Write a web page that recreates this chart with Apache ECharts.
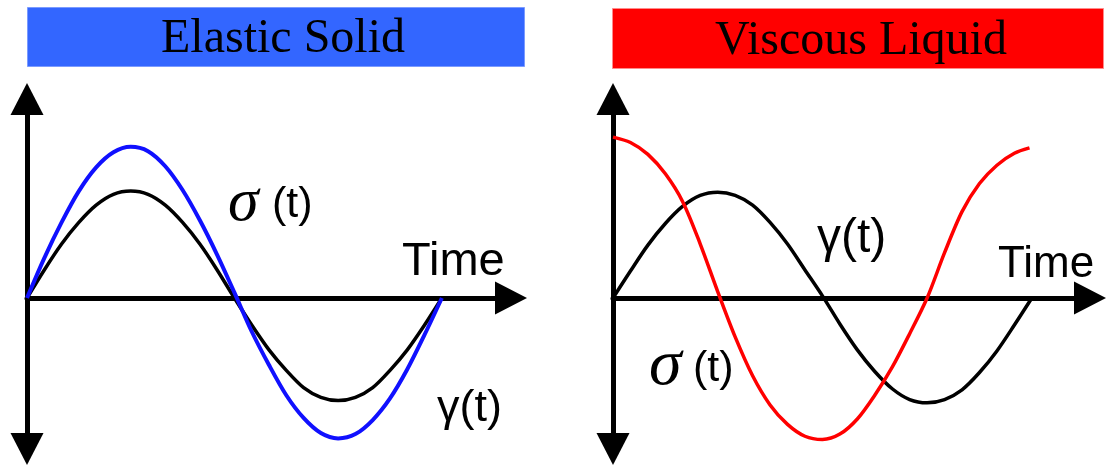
<!DOCTYPE html>
<html>
<head>
<meta charset="utf-8">
<title>Elastic Solid vs Viscous Liquid</title>
<script src="https://cdn.jsdelivr.net/npm/echarts@6/dist/echarts.min.js"></script>
<style>
  html, body { margin: 0; padding: 0; background: #fff; }
  #chart { width: 1107px; height: 468px; }
</style>
</head>
<body>
<div id="chart"></div>
<script>
// phase (degrees) along the time axis
var phase = [0, 15, 30, 45, 60, 75, 90, 105, 120, 135, 150, 165, 180,
             195, 210, 225, 240, 255, 270, 285, 300, 315, 330, 345, 360];
var redPhase = [0, 15, 30, 45, 60, 75, 90, 105, 120, 135, 150, 165, 180,
                195, 210, 225, 240, 255, 270, 285, 300, 315, 330, 345, 358];

// elastic solid: stress (black) and strain (blue) in phase
var solidStress = [0, 0.26, 0.50, 0.70, 0.86, 0.96, 0.99, 0.96, 0.86, 0.70, 0.50, 0.26, 0,
                   -0.25, -0.48, -0.67, -0.83, -0.92, -0.95, -0.92, -0.83, -0.67, -0.48, -0.25, 0];
var solidStrain = [0, 0.37, 0.70, 0.99, 1.21, 1.35, 1.40, 1.36, 1.22, 1.00, 0.72, 0.40, 0.05,
                   -0.31, -0.62, -0.90, -1.11, -1.25, -1.30, -1.26, -1.13, -0.93, -0.66, -0.34, 0];

// viscous liquid: strain (black) and stress (red) 90 deg ahead
var liquidStrain = [0, 0.25, 0.49, 0.69, 0.85, 0.95, 0.98, 0.95, 0.86, 0.70, 0.50, 0.26, 0.02,
                    -0.24, -0.48, -0.68, -0.84, -0.94, -0.97, -0.94, -0.85, -0.69, -0.49, -0.25, 0];
var liquidStress = [1.49, 1.44, 1.33, 1.15, 0.89, 0.50, 0.06, -0.36, -0.72, -0.99, -1.17, -1.28, -1.31,
                    -1.26, -1.12, -0.90, -0.64, -0.33, 0, 0.42, 0.80, 1.06, 1.23, 1.34, 1.39];

var titles = ['Elastic Solid', 'Viscous Liquid'];

function pairs(xs, ys) {
  var out = [];
  for (var i = 0; i < xs.length; i++) out.push([xs[i], ys[i]]);
  return out;
}

var myChart = echarts.init(document.getElementById('chart'));

function xAx(idx, max) {
  return {
    type: 'value', gridIndex: idx, min: 0, max: max,
    axisLine: { onZero: true, lineStyle: { color: '#000', width: 5 },
      symbol: ['none', 'triangle'], symbolSize: [33, 32] },
    axisTick: { show: false }, axisLabel: { show: false }, splitLine: { show: false }
  };
}
function yAx(idx) {
  return {
    type: 'value', gridIndex: idx, min: -1.398, max: 1.843,
    axisLine: { show: true, lineStyle: { color: '#000', width: 5 },
      symbol: ['triangle', 'triangle'], symbolSize: [33, 32] },
    axisTick: { show: false }, axisLabel: { show: false }, splitLine: { show: false }
  };
}
function line(name, idx, data, color, w) {
  return {
    name: name, type: 'line', xAxisIndex: idx, yAxisIndex: idx,
    data: data, smooth: 0.3, showSymbol: false, symbol: 'none',
    lineStyle: { color: color, width: w }, silent: true
  };
}
function label(txt, x, y, font) {
  return { type: 'text', x: x, y: y, silent: true,
    style: { text: txt, font: font, fill: '#000', verticalAlign: 'middle' } };
}

var option = {
  animation: false,
  grid: [
    { left: 27, top: 99, width: 484, height: 350 },
    { left: 613, top: 99, width: 477, height: 350 }
  ],
  xAxis: [xAx(0, 420), xAx(1, 410)],
  yAxis: [yAx(0), yAx(1)],
  series: [
    line('σ(t)', 0, pairs(phase, solidStress), '#000', 3.5),
    line('γ(t)', 0, pairs(phase, solidStrain), '#1010ff', 4),
    line('γ(t)', 1, pairs(phase, liquidStrain), '#000', 3.5),
    line('σ(t)', 1, pairs(redPhase, liquidStress), '#ff0000', 3.5)
  ],
  graphic: [
    { type: 'rect', shape: { x: 27.5, y: 7.5, width: 497, height: 59 },
      style: { fill: '#3366ff', stroke: '#7b9bff', lineWidth: 1 }, silent: true },
    { type: 'rect', shape: { x: 612.5, y: 8.5, width: 491, height: 60 },
      style: { fill: '#ff0000', stroke: '#ff8a8a', lineWidth: 1 }, silent: true },
    { type: 'text', x: 283, y: 39, silent: true,
      style: { text: titles[0], font: '48px "Liberation Serif"', fill: '#000', align: 'center', verticalAlign: 'middle' } },
    { type: 'text', x: 861, y: 41, silent: true,
      style: { text: titles[1], font: '48px "Liberation Serif"', fill: '#000', align: 'center', verticalAlign: 'middle' } },
    label('Time', 402, 262, '47px "Liberation Sans"'),
    label('Time', 998, 265, '44px "Liberation Sans"'),
    label('σ', 228, 204, 'italic 62px "Liberation Serif"'),
    label('(t)', 272, 205, '43px "Liberation Sans"'),
    label('γ(t)', 437, 409, '45px "Liberation Sans"'),
    label('σ', 649, 367, 'italic 66px "Liberation Serif"'),
    label('(t)', 693, 369, '43px "Liberation Sans"'),
    label('γ(t)', 817, 239, '48px "Liberation Sans"')
  ]
};

myChart.setOption(option);
window.addEventListener('resize', function () {
  myChart.resize();
});
</script>
</body>
</html>
